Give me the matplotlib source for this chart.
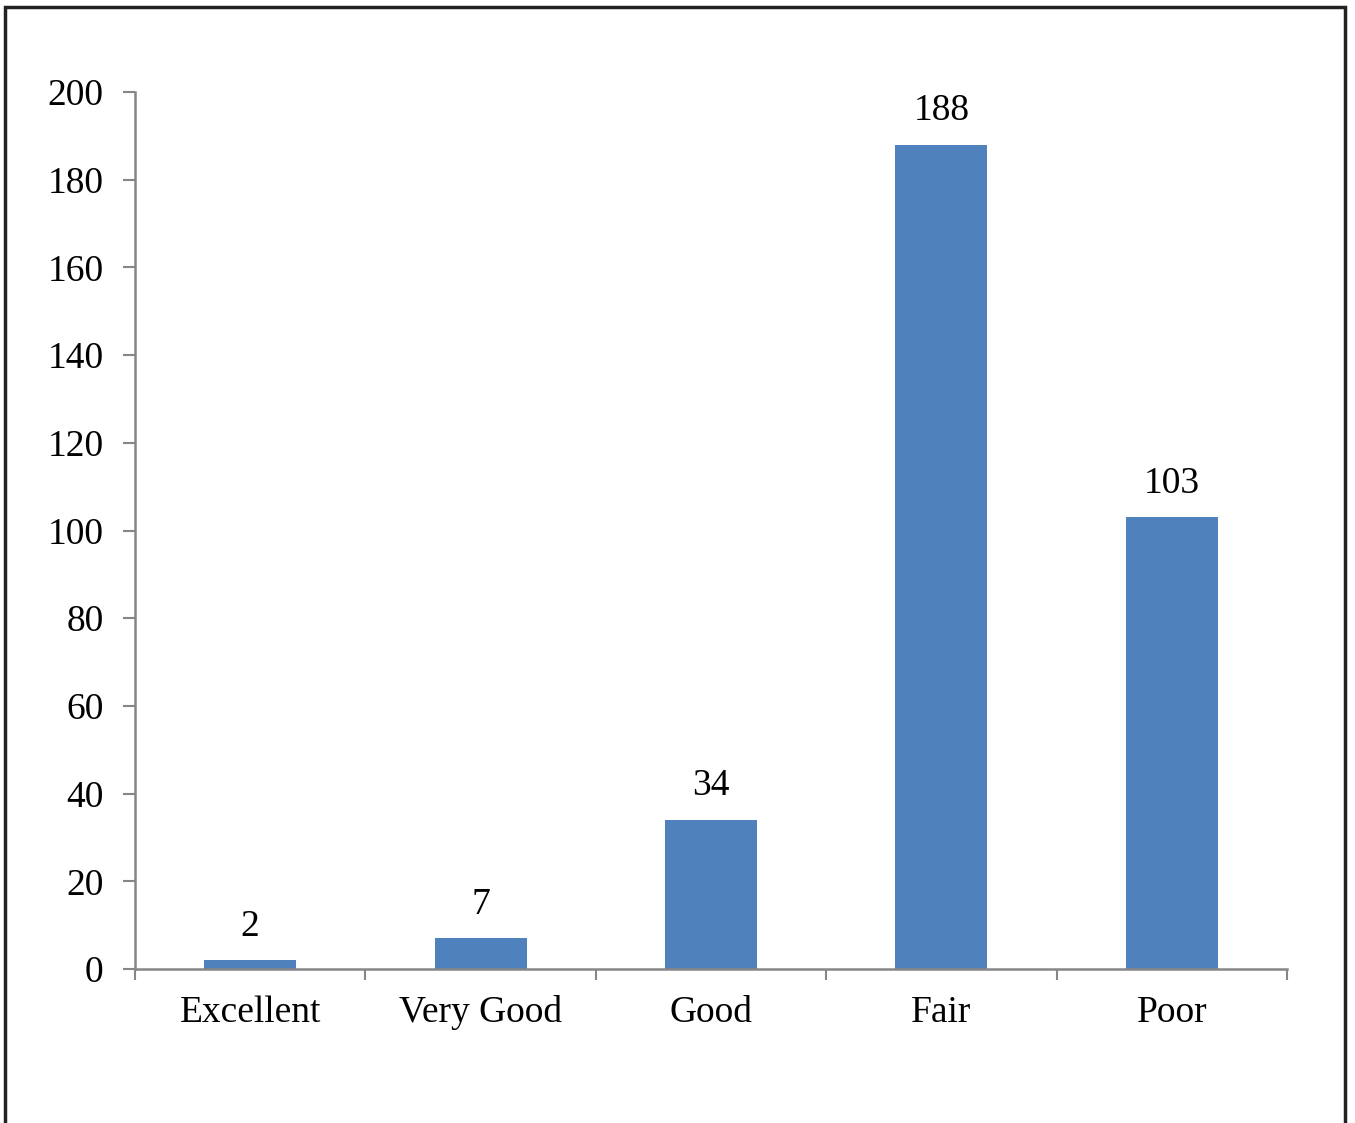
import matplotlib
matplotlib.use("Agg")
import matplotlib.pyplot as plt
from matplotlib.patches import Rectangle
import numpy as np

categories = ["Excellent", "Very Good", "Good", "Fair", "Poor"]
values = [2, 7, 34, 188, 103]
yticks = [0, 20, 40, 60, 80, 100, 120, 140, 160, 180, 200]

plt.rcParams['font.family'] = ['Liberation Serif', 'DejaVu Serif']

fig = plt.figure(figsize=(13.55, 11.23), dpi=100)
ax = fig.add_axes([135/1355, 154/1123, (1287-135)/1355, (969-92)/1123])

x = np.arange(len(categories))
bars = ax.bar(x, values, width=0.4, color='#4F81BD', zorder=2)

ax.set_xlim(-0.5, len(categories) - 0.5)
ax.set_ylim(0, 200)
ax.set_yticks(yticks)
ax.set_yticklabels([str(t) for t in yticks], fontsize=27)

ax.set_xticks(x)
ax.set_xticklabels(categories, fontsize=27)
ax.set_xticks(np.arange(len(categories) + 1) - 0.5, minor=True)
ax.tick_params(axis='x', which='major', length=0, pad=19)
ax.tick_params(axis='x', which='minor', length=8, width=1.5, color='#868686', direction='out')
ax.tick_params(axis='y', length=9, width=1.5, color='#868686', direction='out', pad=13.5)

for s in ['top', 'right']:
    ax.spines[s].set_visible(False)
for s in ['left', 'bottom']:
    ax.spines[s].set_color('#868686')
    ax.spines[s].set_linewidth(1.8)

for xi, v in zip(x, values):
    ax.annotate(str(v), (xi, v), xytext=(0, 12), textcoords='offset points',
                ha='center', va='bottom', fontsize=27)

fig.patches.append(Rectangle((5/1355, -0.02), (1345-5)/1355, 1.02 - 7/1123,
                             transform=fig.transFigure, fill=False,
                             edgecolor='#222222', linewidth=2.5))

fig.savefig("out.png", dpi=100)
